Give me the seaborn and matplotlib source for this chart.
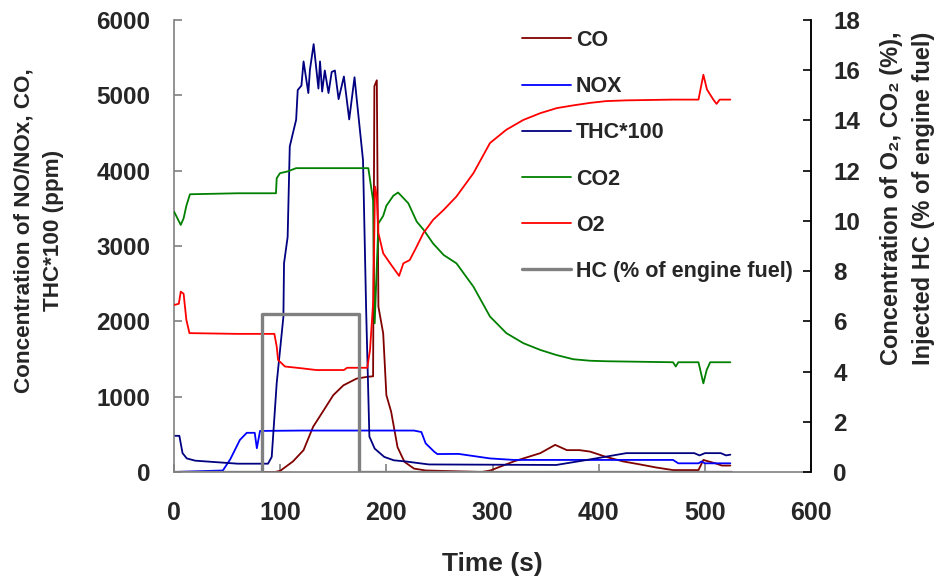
import numpy as np
import pandas as pd
import matplotlib
matplotlib.use("Agg")
import matplotlib.pyplot as plt
import seaborn as sns

# time (s) / value pairs, one pair of lists per trace
# left axis (ppm)
co_t = [0, 95, 100, 112, 122, 131, 141, 150, 159.5, 172, 183, 187.5, 188.7, 191, 192.5, 197, 200,
        204.5, 210.5, 217, 226, 237, 290, 298, 320, 345, 359, 370, 382, 392, 407, 423, 439, 454,
        470, 494, 498.6, 511, 516, 524]
co_v = [0, 0, 15, 140, 290, 600, 820, 1020, 1150, 1240, 1265, 1270, 5120, 5200, 2195, 1840, 1020,
        800, 330, 135, 45, 20, 0, 20, 140, 250, 360, 290, 290, 270, 200, 140, 100, 60,
        25, 25, 160, 110, 85, 85]

nox_t = [0, 46, 53, 62, 68.5, 76, 78, 81, 120, 226, 233, 237, 245, 248, 268, 297.6, 320, 470, 475,
         494, 497, 500, 524]
nox_v = [0, 20, 170, 425, 520, 520, 315, 545, 550, 550, 530, 380, 270, 238, 240, 180, 160, 160, 115,
         115, 140, 115, 115]

thc_t = [0, 5, 8, 12, 20, 40, 60, 88.5, 92, 96.7, 103, 103.6, 107, 109, 112, 115, 116.5, 120, 122,
         126.5, 128, 131.5, 136, 137.5, 139.5, 142, 145.5, 148.5, 151.5, 155, 160, 165, 170, 172,
         178, 181, 184, 189, 198, 207, 218, 229, 240, 360, 389, 426, 490, 495, 500, 515, 520, 524]
thc_v = [480, 480, 250, 180, 150, 130, 110, 110, 200, 1180, 2060, 2770, 3120, 4320, 4500, 4675,
         5070, 5130, 5450, 5030, 5340, 5680, 5090, 5450, 5050, 5330, 5030, 5310, 5330, 4950, 5250,
         4680, 5240, 4960, 4140, 2120, 470, 310, 200, 155, 140, 120, 100, 93, 160, 250, 250, 220,
         250, 250, 220, 230]

# right axis (%)
co2_t = [0, 6.3, 9, 11.6, 15, 60, 96, 96.7, 99.8, 107, 115, 183, 186, 187.5, 189, 192.5, 197, 200,
         206.5, 211, 214, 220.7, 228.6, 235, 244, 254, 266, 282, 297.6, 313, 329, 345, 360, 376,
         392, 407, 470, 472.6, 475, 494, 498.6, 501.7, 505, 524]
co2_v = [10.37, 9.84, 10.1, 10.6, 11.06, 11.1, 11.1, 11.7, 11.9, 11.97, 12.1, 12.1, 11.24, 10.8,
         5.92, 9.9, 10.2, 10.6, 11.0, 11.13, 11.0, 10.7, 9.97, 9.65, 9.1, 8.64, 8.31, 7.38, 6.19,
         5.53, 5.13, 4.86, 4.66, 4.49, 4.43, 4.41, 4.37, 4.2, 4.37, 4.37, 3.53, 4.06, 4.37, 4.37]

o2_t = [0, 4.5, 6.3, 9, 11.6, 14.5, 60, 94.5, 96.7, 98, 104.5, 120, 134, 160, 163, 182, 184.6,
        187.7, 189.3, 190.9, 192.5, 197, 203.5, 212, 216, 222, 228.6, 234.8, 244, 254, 266, 282,
        297.6, 313, 329, 345, 360.4, 376, 392, 407, 426, 470, 494, 498.6, 502, 508, 511, 514, 524]
o2_v = [6.65, 6.7, 7.18, 7.1, 6.06, 5.53, 5.5, 5.5, 5.0, 4.46, 4.2, 4.13, 4.06, 4.06, 4.15, 4.15,
        4.86, 6.85, 11.37, 11.0, 9.51, 8.71, 8.31, 7.81, 8.31, 8.44, 8.98, 9.51, 10.04, 10.44,
        10.97, 11.9, 13.1, 13.63, 14.02, 14.29, 14.49, 14.6, 14.7, 14.77, 14.8, 14.83, 14.83,
        15.82, 15.23, 14.83, 14.66, 14.83, 14.83]

hc_t = [0, 83, 83, 174, 174, 525]
hc_v = [0, 0, 6.3, 6.3, 0, 0]

left_series = [("CO", co_t, co_v, "#800000"),
               ("NOX", nox_t, nox_v, "#0000FF"),
               ("THC*100", thc_t, thc_v, "#000080")]
right_series = [("CO2", co2_t, co2_v, "#008000"),
                ("O2", o2_t, o2_v, "#FF0000")]

sns.set_theme(style="white")
plt.rcParams['font.family'] = ['Liberation Sans', 'DejaVu Sans']
plt.rcParams['font.weight'] = 'bold'

fig = plt.figure(figsize=(9.49, 5.85), dpi=100)
ax = fig.add_axes([0.1834, 0.1932, 0.6712, 0.7726])
ax2 = ax.twinx()

for name, t, v, c in left_series:
    sns.lineplot(x=t, y=v, ax=ax, color=c, linewidth=1.3, label=name,
                 estimator=None, sort=False)
for name, t, v, c in right_series:
    sns.lineplot(x=t, y=v, ax=ax2, color=c, linewidth=1.3, label=name,
                 estimator=None, sort=False)
sns.lineplot(x=hc_t, y=hc_v, ax=ax2, color="#808080", linewidth=2.4,
             label="HC (% of engine fuel)", estimator=None, sort=False)

ax.set_xlim(0, 600)
ax.set_ylim(0, 6000)
ax2.set_ylim(0, 18)
ax.set_xticks(np.arange(0, 601, 100))
ax.set_yticks(np.arange(0, 6001, 1000))
ax2.set_yticks(np.arange(0, 19, 2))

# spines: grey left/bottom, black right, no top
for a in (ax, ax2):
    a.spines['top'].set_visible(False)
    a.grid(False)
ax.spines['left'].set_color('#808080')
ax.spines['bottom'].set_color('#808080')
ax2.spines['left'].set_visible(False)
ax2.spines['bottom'].set_visible(False)
ax2.spines['right'].set_color('black')
for s in ('left', 'bottom', 'right'):
    ax.spines[s].set_linewidth(1.2)
    ax2.spines[s].set_linewidth(1.2)

ax.tick_params(axis='x', direction='in', length=6, width=1.2, color='#808080',
               labelsize=18, pad=21, bottom=True)
ax.tick_params(axis='y', direction='in', length=6, width=1.2, color='#808080',
               labelsize=17.5, pad=17, left=True)
ax2.tick_params(axis='y', direction='in', length=6, width=1.2, color='black',
                labelsize=17.5, pad=16, right=True)
for lab in ax.get_xticklabels() + ax.get_yticklabels() + ax2.get_yticklabels():
    lab.set_fontweight('bold')

ax.set_xlabel("Time (s)", fontsize=19, fontweight='bold', labelpad=19)
ax.set_ylabel("Concentration of NO/NOx, CO,\nTHC*100 (ppm)", fontsize=16.2,
              fontweight='bold', linespacing=1.55)
ax2.set_ylabel("Concentration of O\u2082, CO\u2082 (%),\nInjected HC (% of engine fuel)",
               fontsize=17, fontweight='bold', linespacing=1.5)
ax.yaxis.label.set_verticalalignment('center')
ax2.yaxis.label.set_verticalalignment('center')
ax.yaxis.set_label_coords(-0.212, 0.535)
ax2.yaxis.set_label_coords(1.151, 0.605)

# one legend for both axes
h1, l1 = ax.get_legend_handles_labels()
h2, l2 = ax2.get_legend_handles_labels()
ax.get_legend().remove()
ax2.get_legend().remove()
fig.legend(h1 + h2, l1 + l2, loc='upper left', bbox_to_anchor=(522 / 949, 1 - 30 / 585),
           bbox_transform=fig.transFigure, frameon=False, borderpad=0, borderaxespad=0,
           handlelength=2.28, handletextpad=0.22, labelspacing=1.17,
           prop={'size': 15.5, 'weight': 'bold'})

fig.savefig("out.png", dpi=100)
